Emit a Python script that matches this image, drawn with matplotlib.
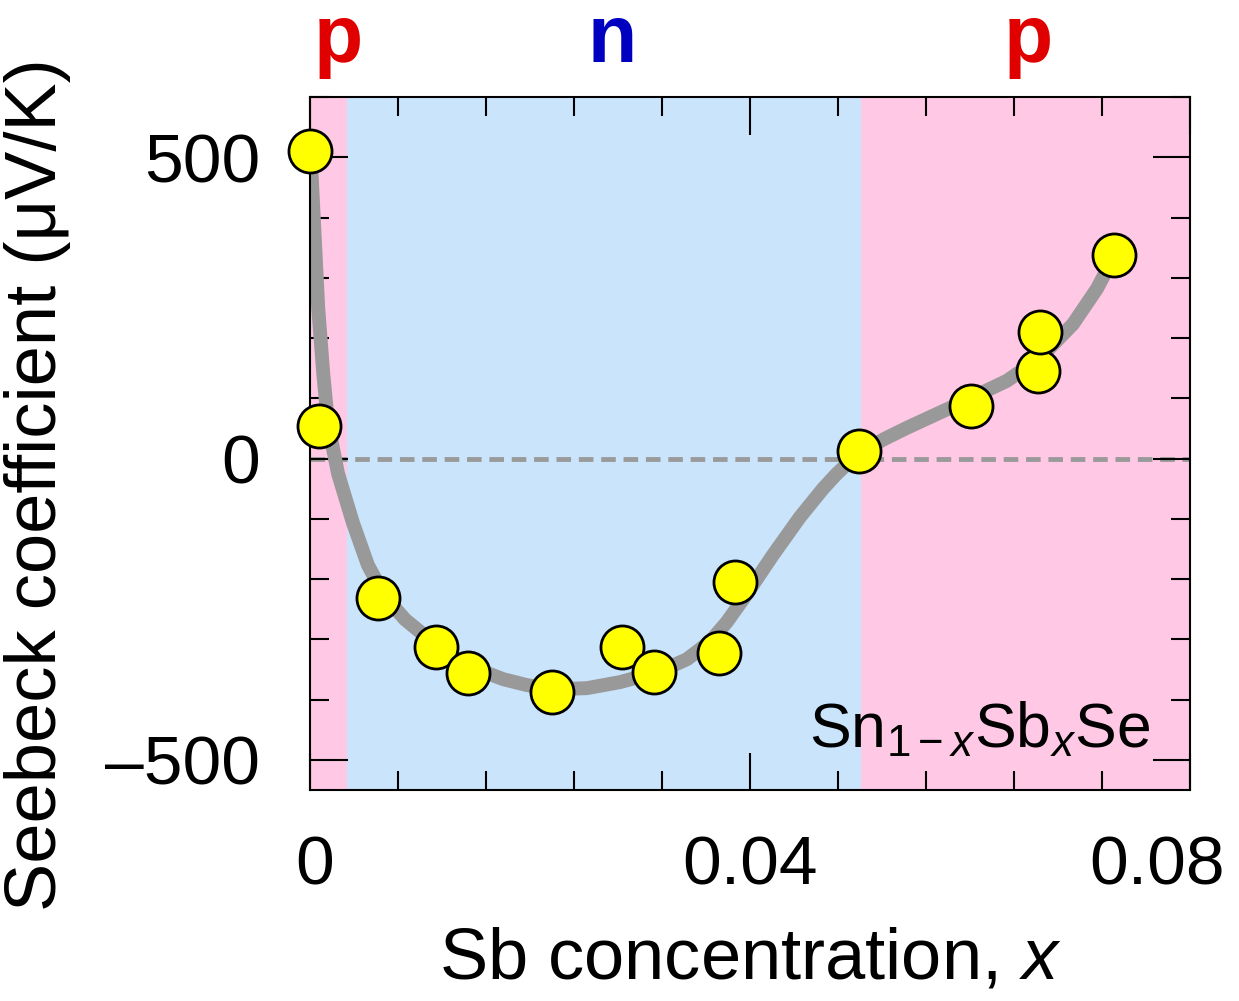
import matplotlib.pyplot as plt
from matplotlib.ticker import MultipleLocator
from matplotlib.transforms import ScaledTranslation

plt.rcParams['font.family'] = ['Liberation Sans', 'DejaVu Sans']
plt.rcParams['mathtext.fontset'] = 'custom'
plt.rcParams['mathtext.rm'] = 'Liberation Sans'
plt.rcParams['mathtext.it'] = 'Liberation Sans:italic'

# measured points
sb_x = [0.0, 0.0008, 0.0062, 0.0115, 0.0144, 0.0220, 0.0284, 0.0313,
        0.0372, 0.0386, 0.0499, 0.0601, 0.0662, 0.0664, 0.0731]
seebeck = [510, 54, -231, -312, -356, -388, -312, -355,
           -323, -205, 12, 87, 145, 210, 338]

# guide-to-the-eye curve
curve_x = [0.0, 0.00015, 0.00045, 0.00075, 0.00121, 0.00164, 0.00255,
           0.00391, 0.00527, 0.00682, 0.00864, 0.01064, 0.01273, 0.01455,
           0.01755, 0.01973, 0.02209, 0.02518, 0.02818, 0.03182, 0.03427,
           0.03636, 0.03791, 0.03955, 0.04209, 0.04455, 0.04664, 0.04780,
           0.04882, 0.0500, 0.05227, 0.05427, 0.05818, 0.06336, 0.06636,
           0.06936, 0.07155, 0.0730]
curve_y = [508, 470, 360, 249, 140, 58, -25,
           -107, -177, -229, -267, -297, -325, -345,
           -366, -376, -383, -381, -371, -353, -333,
           -304, -271, -229, -160, -97, -50, -27,
           -9, 10, 33, 51, 84, 129, 167,
           223, 282, 332]

# carrier-type regions
p1_end = 0.0034
n_end = 0.0501

fig = plt.figure(figsize=(12.39, 10.01), dpi=100)
ax = fig.add_axes([0.2502, 0.2108, 0.7102, 0.6923])

ax.axvspan(0, p1_end, color='#FFC8E4', lw=0, zorder=0)
ax.axvspan(p1_end, n_end, color='#CAE4FC', lw=0, zorder=0)
ax.axvspan(n_end, 0.08, color='#FFC8E4', lw=0, zorder=0)

ax.axhline(0, color='#9A9A9A', lw=3.5, ls=(0, (3, 1.6)), zorder=1)
ax.plot(curve_x, curve_y, color='#999999', lw=10, solid_capstyle='round',
        solid_joinstyle='round', zorder=2)
ax.plot(sb_x, seebeck, 'o', ms=31, mfc='#FFFF00', mec='black', mew=2,
        clip_on=False, zorder=3)

ax.set_xlim(0, 0.08)
ax.set_ylim(-550, 600)
ax.set_xticks([0, 0.04, 0.08])
ax.set_xticklabels(['0', '0.04', '0.08'])
ax.xaxis.set_minor_locator(MultipleLocator(0.008))
ax.set_yticks([-500, 0, 500])
ax.set_yticklabels(['\u2013500', '0', '500'])
ax.yaxis.set_minor_locator(MultipleLocator(100))

ax.tick_params(which='both', direction='in', top=True, right=True,
               width=1.5, labelsize=50)
ax.tick_params(which='major', length=27)
ax.tick_params(which='minor', length=14)
ax.tick_params(axis='x', which='major', pad=32)
ax.tick_params(axis='y', which='major', pad=36)
for s in ax.spines.values():
    s.set_linewidth(1.5)

# nudge the end labels like in the original
for lbl, dx in zip(ax.get_xticklabels(), [5, 0, -33]):
    lbl.set_transform(lbl.get_transform()
                      + ScaledTranslation(dx / 100, 0, fig.dpi_scale_trans))

ax.set_xlabel('Sb concentration, $\\mathit{x}$', fontsize=52, labelpad=20)
ax.set_ylabel('Seebeck coefficient (\u03bcV/K)', fontsize=52)
ax.yaxis.set_label_coords(-0.272, 0.44)

ax.text(0.0764, -478, 'Sn$_{1\u2212\\mathit{x}}$Sb$_{\\mathit{x}}$Se',
        fontsize=45, ha='right', va='baseline', zorder=4)

for xp, lab, col in [(0.0026, 'p', '#E00000'), (0.0275, 'n', '#0000C0'),
                     (0.0653, 'p', '#E00000')]:
    ax.text(xp, 1.05, lab, transform=ax.get_xaxis_transform(), color=col,
            fontsize=58, fontweight='bold', ha='center', va='baseline')

fig.savefig('out.png', dpi=100)
